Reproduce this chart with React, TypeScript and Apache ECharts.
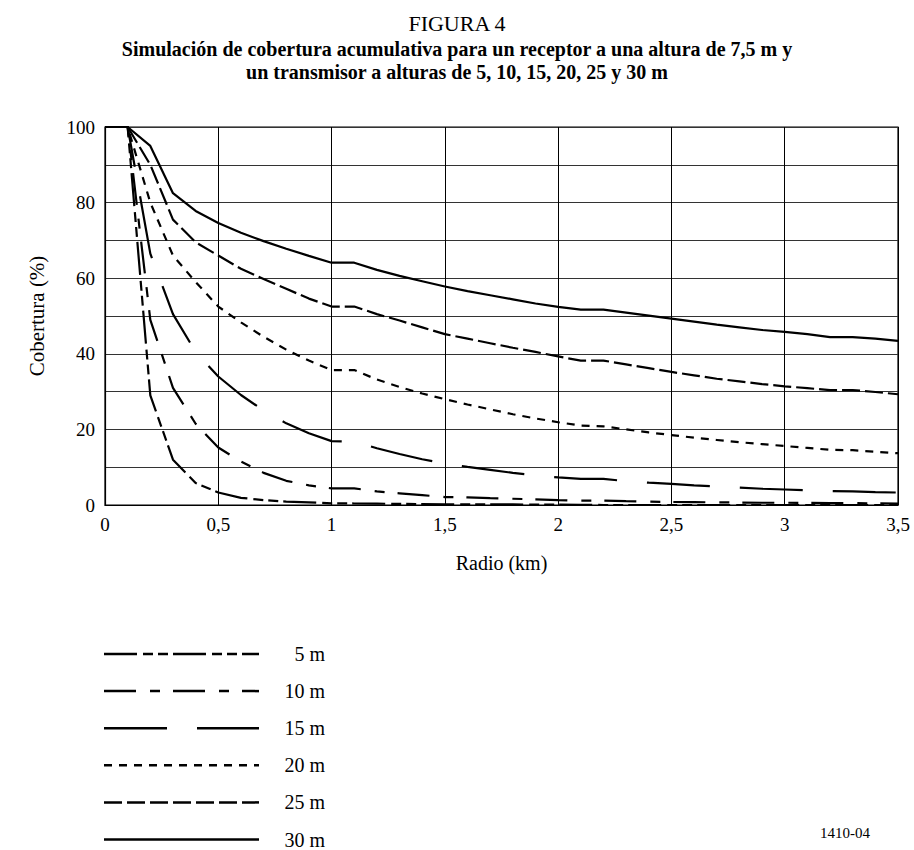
import React, { useEffect, useRef } from "react";
import * as echarts from "echarts";

const radios = [0, 0.1, 0.2, 0.3, 0.4, 0.5, 0.6, 0.7, 0.8, 0.9, 1.0, 1.1, 1.2, 1.3, 1.4, 1.5, 1.6, 1.7, 1.8, 1.9, 2.0, 2.1, 2.2, 2.3, 2.4, 2.5, 2.6, 2.7, 2.8, 2.9, 3.0, 3.1, 3.2, 3.3, 3.4, 3.5];

const h5 = [100, 100, 29, 12, 5.8, 3.3, 1.9, 1.3, 0.9, 0.7, 0.45, 0.4, 0.35, 0.3, 0.25, 0.2, 0.2, 0.15, 0.15, 0.1, 0.1, 0.05, 0, 0, 0, 0, 0, 0, 0, 0, 0, 0, 0, 0, 0, 0];
const h10 = [100, 100, 49, 31, 21.5, 15.2, 11.5, 8.5, 6.4, 5.2, 4.4, 4.4, 3.6, 3.1, 2.6, 2.1, 2, 1.8, 1.65, 1.5, 1.3, 1.15, 1.15, 1, 0.9, 0.8, 0.75, 0.7, 0.65, 0.6, 0.6, 0.55, 0.5, 0.5, 0.45, 0.4];
const h15 = [100, 100, 66.5, 50.5, 40.5, 34, 29.1, 25, 21.6, 19, 16.9, 16.8, 15, 13.5, 12.1, 11, 10.1, 9.3, 8.5, 7.8, 7.3, 6.9, 6.9, 6.3, 5.9, 5.6, 5.2, 4.9, 4.6, 4.3, 4.1, 3.9, 3.7, 3.6, 3.4, 3.3];
const h20 = [100, 100, 80, 66, 59, 52.5, 48.3, 44.5, 41.1, 38.2, 35.7, 35.7, 33.2, 31.2, 29.5, 28, 26.6, 25.3, 24, 22.9, 21.9, 21, 20.8, 20, 19.2, 18.5, 17.8, 17.2, 16.6, 16.1, 15.6, 15.1, 14.6, 14.5, 14.1, 13.7];
const h25 = [100, 100, 90, 75.5, 69.5, 66, 62.5, 59.8, 57.2, 54.6, 52.5, 52.5, 50.5, 48.8, 47, 45.2, 44, 42.8, 41.6, 40.5, 39.3, 38.2, 38.2, 37.2, 36.2, 35.2, 34.3, 33.4, 32.7, 32, 31.4, 30.9, 30.4, 30.4, 29.9, 29.3];
const h30 = [100, 100, 95, 82.5, 77.8, 74.6, 72, 69.8, 67.8, 65.9, 64.1, 64.1, 62.2, 60.6, 59.2, 57.8, 56.6, 55.5, 54.4, 53.3, 52.4, 51.7, 51.7, 50.9, 50.1, 49.3, 48.5, 47.7, 47, 46.3, 45.8, 45.2, 44.4, 44.4, 44, 43.4];

const seriesNames = ["5 m", "10 m", "15 m", "20 m", "25 m", "30 m"];
const seriesValues = [h5, h10, h15, h20, h25, h30];
const yTickLabels = ["0", "20", "40", "60", "80", "100"];

const dashes: (number[] | "solid")[] = [
  [33, 6, 10, 5, 10, 5],
  [32, 14, 10, 13],
  [63, 30],
  [8, 7],
  [18, 5],
  "solid",
];

const FONT = "'Liberation Serif', 'Times New Roman', serif";

export default function App() {
  const ref = useRef<HTMLDivElement>(null);
  useEffect(() => {
    if (!ref.current) return;
    const chart = echarts.init(ref.current, null, { renderer: "svg" });
    const series = seriesNames.map((name, i) => ({
      name,
      type: "line",
      data: radios.map((r, j) => [r, seriesValues[i][j]]),
      showSymbol: false,
      symbol: "none",
      lineStyle: { color: "#000", width: 2.2, type: dashes[i] },
      z: 5,
    }));

    const legendTop = 654;
    const legendStep = 37.1;
    const legendGraphics: any[] = [];
    seriesNames.forEach((name, i) => {
      const y = legendTop + i * legendStep;
      legendGraphics.push({
        type: "line",
        shape: { x1: 104, y1: y, x2: 259, y2: y },
        style: {
          stroke: "#000",
          lineWidth: 2.5,
          lineDash: dashes[i] === "solid" ? null : dashes[i],
        },
      });
      legendGraphics.push({
        type: "text",
        x: 325,
        y,
        style: {
          text: name,
          align: "right",
          verticalAlign: "middle",
          font: `20px ${FONT}`,
          fill: "#000",
        },
      });
    });

    chart.setOption({
      animation: false,
      backgroundColor: "#fff",
      title: [
        {
          text: "FIGURA 4",
          left: "center",
          top: 7,
          textStyle: { fontFamily: FONT, fontSize: 22, fontWeight: "normal", color: "#000" },
        },
        {
          text: "Simulación de cobertura acumulativa para un receptor a una altura de 7,5 m y\nun transmisor a alturas de 5, 10, 15, 20, 25 y 30 m",
          left: "center",
          top: 32,
          textStyle: { fontFamily: FONT, fontSize: 20, fontWeight: "bold", color: "#000", lineHeight: 23 },
        },
      ],
      grid: { left: 105, right: 16, top: 127, bottom: 345, show: true, borderColor: "#000", borderWidth: 1.2 },
      xAxis: {
        type: "value",
        min: 0,
        max: 3.5,
        interval: 0.5,
        name: "Radio (km)",
        nameLocation: "middle",
        nameGap: 48,
        nameTextStyle: { fontFamily: FONT, fontSize: 20, color: "#000" },
        axisLine: { show: true, lineStyle: { color: "#000", width: 1.2 } },
        axisTick: { show: false },
        axisLabel: {
          fontFamily: FONT,
          fontSize: 19,
          color: "#000",
          margin: 10,
          formatter: (v: number) => String(v).replace(".", ","),
        },
        splitLine: { show: true, lineStyle: { color: "#000", width: 1 } },
      },
      yAxis: {
        type: "value",
        min: 0,
        max: 100,
        interval: 10,
        name: "Cobertura (%)",
        nameLocation: "middle",
        nameGap: 58,
        nameTextStyle: { fontFamily: FONT, fontSize: 21, color: "#000" },
        axisLine: { show: true, lineStyle: { color: "#000", width: 1.2 } },
        axisTick: { show: false },
        axisLabel: {
          fontFamily: FONT,
          fontSize: 19,
          color: "#000",
          margin: 10,
          formatter: (v: number) => (yTickLabels.includes(String(v)) ? String(v) : ""),
        },
        splitLine: { show: true, lineStyle: { color: "#333", width: 1 } },
      },
      series,
      graphic: [
        ...legendGraphics,
        {
          type: "text",
          x: 870,
          y: 833,
          style: { text: "1410-04", align: "right", verticalAlign: "middle", font: `15px ${FONT}`, fill: "#000" },
        },
      ],
    });
    return () => chart.dispose();
  }, []);
  return <div ref={ref} style={{ position: "absolute", left: 0, top: 0, width: 914, height: 850 }} />;
}
